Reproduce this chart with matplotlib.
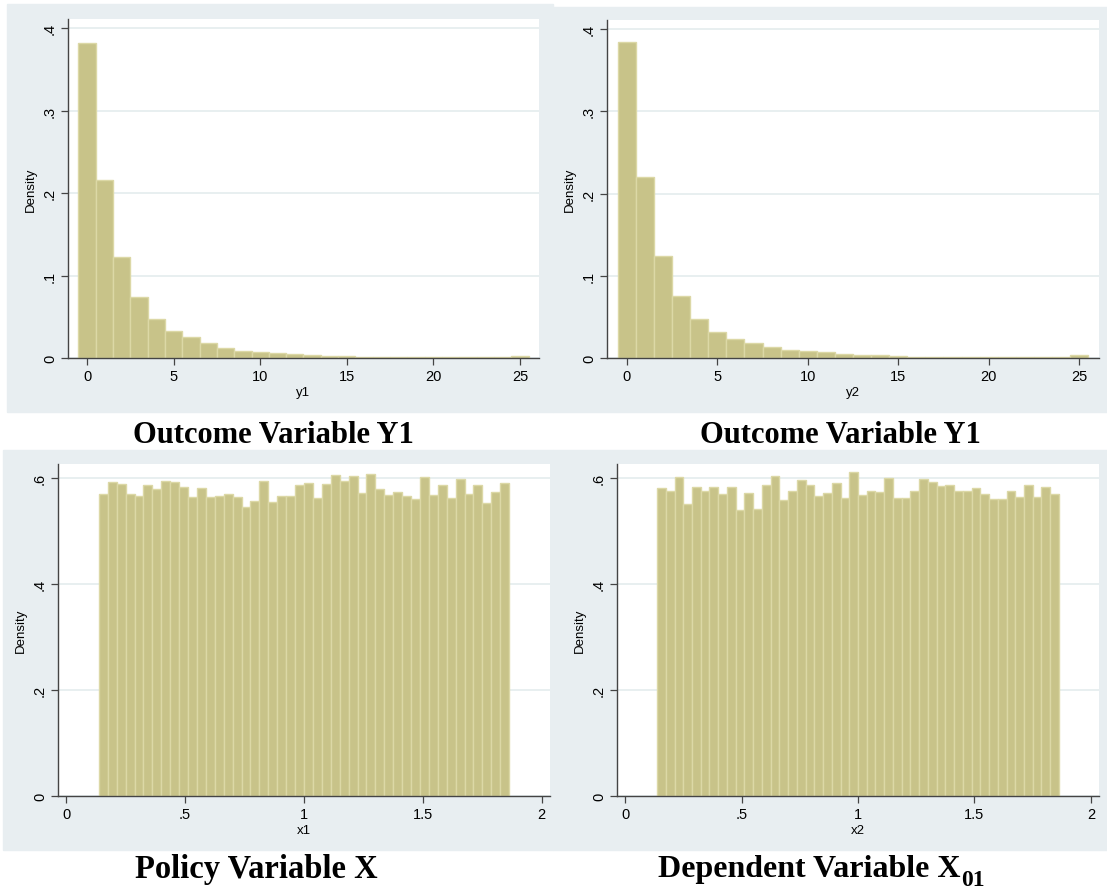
import numpy as np
import matplotlib
matplotlib.use("Agg")
from matplotlib import pyplot as plt
from matplotlib.patches import Rectangle

# histogram densities
y1_density = [0.382, 0.216, 0.122, 0.074, 0.047, 0.033, 0.025, 0.018, 0.012, 0.0088,
              0.0075, 0.006, 0.0045, 0.0035, 0.003, 0.002, 0.0016, 0.0013, 0.0011, 0.001,
              0.0009, 0.0008, 0.0008, 0.0008, 0.0009, 0.003]
y2_density = [0.384, 0.220, 0.124, 0.075, 0.048, 0.032, 0.023, 0.018, 0.013, 0.0097,
              0.0085, 0.0068, 0.0052, 0.0037, 0.0035, 0.0027, 0.0016, 0.0014, 0.0012, 0.001,
              0.001, 0.0009, 0.0009, 0.0009, 0.0018, 0.0034]
x1_density = [0.570, 0.592, 0.589, 0.570, 0.565, 0.586, 0.578, 0.594, 0.592, 0.582,
              0.564, 0.581, 0.564, 0.565, 0.569, 0.563, 0.545, 0.557, 0.594, 0.555,
              0.566, 0.565, 0.587, 0.590, 0.562, 0.589, 0.606, 0.594, 0.604, 0.571,
              0.608, 0.578, 0.567, 0.573, 0.565, 0.560, 0.602, 0.568, 0.586, 0.562,
              0.597, 0.570, 0.586, 0.552, 0.573, 0.591]
x2_density = [0.581, 0.576, 0.602, 0.550, 0.582, 0.576, 0.582, 0.569, 0.583, 0.540,
              0.572, 0.542, 0.586, 0.603, 0.558, 0.575, 0.596, 0.587, 0.566, 0.572,
              0.590, 0.562, 0.611, 0.568, 0.576, 0.573, 0.600, 0.562, 0.562, 0.575,
              0.597, 0.593, 0.584, 0.587, 0.575, 0.576, 0.581, 0.569, 0.560, 0.560,
              0.575, 0.564, 0.587, 0.564, 0.583, 0.570]
x_lo, x_hi = 0.137, 1.863

y_xticks = [0, 5, 10, 15, 20, 25]
y_yticks = [0, 0.1, 0.2, 0.3, 0.4]
y_yticklabels = ["0", ".1", ".2", ".3", ".4"]
x_xticks = [0, 0.5, 1, 1.5, 2]
x_xticklabels = ["0", ".5", "1", "1.5", "2"]
x_yticks = [0, 0.2, 0.4, 0.6]
x_yticklabels = ["0", ".2", ".4", ".6"]

plt.rcParams["font.family"] = "Liberation Sans"

W, H = 1107, 895
fig = plt.figure(figsize=(W / 100, H / 100), dpi=100)

bg = "#e8eef1"
bar_c = "#c8c389"
edge_c = "#dcd8a6"
grid_c = "#e4ecee"
axis_c = "#444444"


def px_box(l, t, r, b):
    return [l / W, 1 - b / H, (r - l) / W, (b - t) / H]


# grey panel backgrounds
for l, t, r, b in [(7, 5, 553, 413), (553, 8, 1107, 413), (3, 451, 553, 851), (553, 451, 1107, 851)]:
    fig.patches.append(Rectangle((l / W, 1 - b / H), (r - l) / W, (b - t) / H,
                                 transform=fig.transFigure, color=bg, zorder=-10))


def style(ax, xticks, xlabels, yticks, ylabels, xlabel):
    ax.set_facecolor("white")
    for s in ["top", "right"]:
        ax.spines[s].set_visible(False)
    for s in ["left", "bottom"]:
        ax.spines[s].set_color(axis_c)
        ax.spines[s].set_linewidth(1.0)
    ax.set_xticks(xticks)
    ax.set_xticklabels(xlabels, fontsize=10.5)
    ax.set_yticks(yticks)
    ax.set_yticklabels(ylabels, fontsize=10.5, rotation=90, va="center")
    ax.tick_params(direction="out", length=5, width=0.9, color=axis_c, pad=3)
    ax.yaxis.grid(True, color=grid_c, linewidth=1.2)
    ax.set_axisbelow(True)
    ax.set_ylabel("Density", fontsize=9.5, labelpad=4)
    ax.set_xlabel(xlabel, fontsize=9.5, labelpad=2)


# top left
ax1 = fig.add_axes(px_box(68, 20, 539, 359))
ax1.bar(np.arange(len(y1_density)) - 0.5, y1_density, width=1, align="edge",
        color=bar_c, edgecolor=edge_c, linewidth=1)
ax1.set_xlim(-1.1, 26.1)
ax1.set_ylim(0, 0.411)
style(ax1, y_xticks, [str(t) for t in y_xticks], y_yticks, y_yticklabels, "y1")

# top right
ax2 = fig.add_axes(px_box(607, 21, 1099, 359))
ax2.bar(np.arange(len(y2_density)) - 0.5, y2_density, width=1, align="edge",
        color=bar_c, edgecolor=edge_c, linewidth=1)
ax2.set_xlim(-1.1, 26.1)
ax2.set_ylim(0, 0.411)
style(ax2, y_xticks, [str(t) for t in y_xticks], y_yticks, y_yticklabels, "y2")

# bottom left
edges = np.linspace(x_lo, x_hi, len(x1_density) + 1)
ax3 = fig.add_axes(px_box(58, 465, 550, 797))
ax3.bar(edges[:-1], x1_density, width=edges[1] - edges[0], align="edge",
        color=bar_c, edgecolor=edge_c, linewidth=1)
ax3.set_xlim(-0.035, 2.035)
ax3.set_ylim(0, 0.626)
style(ax3, x_xticks, x_xticklabels, x_yticks, x_yticklabels, "x1")

# bottom right
ax4 = fig.add_axes(px_box(617, 465, 1099, 797))
ax4.bar(edges[:-1], x2_density, width=edges[1] - edges[0], align="edge",
        color=bar_c, edgecolor=edge_c, linewidth=1)
ax4.set_xlim(-0.035, 2.035)
ax4.set_ylim(0, 0.626)
style(ax4, x_xticks, x_xticklabels, x_yticks, x_yticklabels, "x2")

# captions
cap = dict(fontweight="bold", family="Liberation Serif")
fig.text(273 / W, 1 - 436 / H, "Outcome Variable Y1", ha="center", va="center", fontsize=22, **cap)
fig.text(840 / W, 1 - 436 / H, "Outcome Variable Y1", ha="center", va="center", fontsize=22, **cap)
fig.text(256 / W, 1 - 870 / H, "Policy Variable X", ha="center", va="center", fontsize=23.5, **cap)
t4 = fig.text(658 / W, 1 - 870 / H, "Dependent Variable X", ha="left", va="center", fontsize=23, **cap)
ax4.annotate("01", xy=(1, 0), xycoords=t4, xytext=(0.5, -5), textcoords="offset points",
             ha="left", va="bottom", fontsize=17, annotation_clip=False, **cap)

fig.savefig("out.png", dpi=100)
